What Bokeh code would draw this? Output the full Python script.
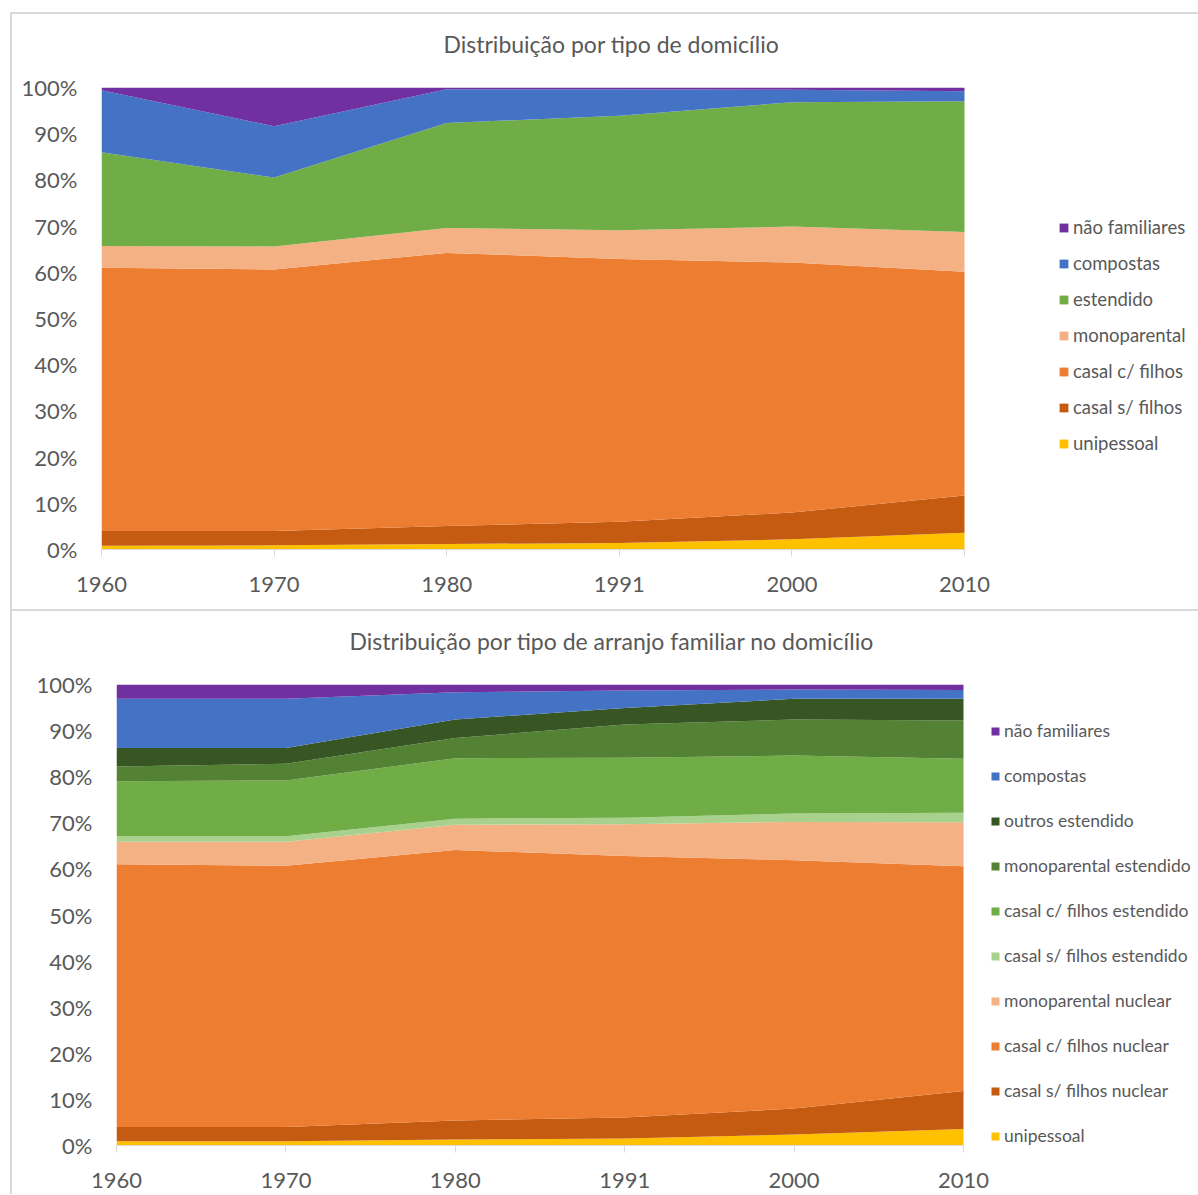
from bokeh.plotting import figure
from bokeh.models import (Range1d, FixedTicker, Legend, LegendItem, Title,
                          ColumnDataSource, NumeralTickFormatter)
from bokeh.embed import file_html
from bokeh.resources import INLINE

years = ["1960", "1970", "1980", "1991", "2000", "2010"]

# --- Distribuição por tipo de domicílio (% dos domicílios) ---
dom_unipessoal = [0.8, 0.9, 1.2, 1.4, 2.2, 3.6]
dom_casal_sem_filhos = [3.2, 3.1, 3.9, 4.6, 5.8, 8.1]
dom_casal_com_filhos = [57.0, 56.6, 59.1, 56.9, 54.1, 48.4]
dom_monoparental = [4.7, 5.0, 5.4, 6.2, 7.8, 8.6]
dom_estendido = [20.3, 14.9, 22.7, 24.8, 26.9, 28.3]
dom_compostas = [13.4, 11.1, 7.3, 5.7, 2.7, 2.2]
dom_nao_familiares = [0.6, 8.4, 0.4, 0.4, 0.5, 0.8]

dom_labels = ["unipessoal", "casal s/ filhos", "casal c/ filhos", "monoparental",
              "estendido", "compostas", "não familiares"]
dom_values = [dom_unipessoal, dom_casal_sem_filhos, dom_casal_com_filhos,
              dom_monoparental, dom_estendido, dom_compostas, dom_nao_familiares]
dom_colors = ["#FFC000", "#C55A11", "#ED7D31", "#F4B183", "#70AD47", "#4472C4", "#7030A0"]

# --- Distribuição por tipo de arranjo familiar no domicílio ---
arr_unipessoal = [0.9, 0.9, 1.3, 1.5, 2.4, 3.6]
arr_casal_sem_filhos_nuclear = [3.1, 3.1, 4.1, 4.6, 5.6, 8.2]
arr_casal_com_filhos_nuclear = [57.0, 56.7, 58.7, 56.7, 53.9, 48.8]
arr_monoparental_nuclear = [4.9, 5.2, 5.5, 6.9, 8.3, 9.5]
arr_casal_sem_filhos_estendido = [1.2, 1.2, 1.3, 1.4, 1.8, 2.1]
arr_casal_com_filhos_estendido = [11.9, 12.1, 13.1, 13.0, 12.6, 11.7]
arr_monoparental_estendido = [3.2, 3.6, 4.4, 7.2, 7.8, 8.3]
arr_outros_estendido = [4.0, 3.4, 4.0, 3.6, 4.5, 4.7]
arr_compostas = [10.7, 10.7, 5.9, 3.8, 2.0, 1.9]
arr_nao_familiares = [3.1, 3.1, 1.7, 1.3, 1.1, 1.2]

arr_labels = ["unipessoal", "casal s/ filhos nuclear", "casal c/ filhos nuclear",
              "monoparental nuclear", "casal s/ filhos estendido",
              "casal c/ filhos estendido", "monoparental estendido",
              "outros estendido", "compostas", "não familiares"]
arr_values = [arr_unipessoal, arr_casal_sem_filhos_nuclear, arr_casal_com_filhos_nuclear,
              arr_monoparental_nuclear, arr_casal_sem_filhos_estendido,
              arr_casal_com_filhos_estendido, arr_monoparental_estendido,
              arr_outros_estendido, arr_compostas, arr_nao_familiares]
arr_colors = ["#FFC000", "#C55A11", "#ED7D31", "#F4B183", "#A9D18E",
              "#70AD47", "#548235", "#375623", "#4472C4", "#7030A0"]

FONT = "Lato"
TEXT = "#595959"
BORDER = "#D9D9D9"
CANVAS_W = 1186


def stacked_chart(title, labels, values, colors, *, left, top, bottom, frame_h,
                  data_w, title_offset, legend_loc, legend_spacing, legend_font, glyph):
    n = len(years)
    totals = [sum(v[i] for v in values) for i in range(n)]
    data = {"x": list(range(n))}
    keys = []
    for k, v in enumerate(values):
        key = f"s{k}"
        keys.append(key)
        data[key] = [v[i] / totals[i] for i in range(n)]
    src = ColumnDataSource(data)

    # the plot area runs to the right edge so that the legend sits inside it;
    # the categories occupy the first data_w pixels
    frame_w = CANVAS_W - left
    x_end = (n - 1) * frame_w / data_w

    p = figure(frame_width=frame_w, frame_height=frame_h, output_backend="svg",
               toolbar_location=None, title=None,
               x_range=Range1d(0, x_end), y_range=Range1d(0, 1),
               min_border_left=left, min_border_right=0,
               min_border_top=top, min_border_bottom=bottom)
    p.outline_line_color = None
    p.grid.visible = False
    p.background_fill_color = "white"
    p.border_fill_color = "white"

    rends = p.varea_stack(stackers=keys, x="x", color=colors, source=src)

    xa = p.xaxis[0]
    xa.bounds = (0, n - 1)
    xa.ticker = FixedTicker(ticks=list(range(n)))
    xa.major_label_overrides = {i: y for i, y in enumerate(years)}
    xa.axis_line_color = BORDER
    xa.axis_line_width = 1
    xa.major_tick_line_color = BORDER
    xa.major_tick_in = 0
    xa.major_tick_out = 7
    xa.minor_tick_line_color = None
    xa.major_label_standoff = 20
    xa.major_label_text_font = FONT
    xa.major_label_text_font_size = "22px"
    xa.major_label_text_color = TEXT

    ya = p.yaxis[0]
    ya.ticker = FixedTicker(ticks=[i / 10 for i in range(11)])
    ya.formatter = NumeralTickFormatter(format="0%")
    ya.axis_line_color = None
    ya.major_tick_line_color = None
    ya.minor_tick_line_color = None
    ya.major_tick_out = 0
    ya.major_tick_in = 0
    ya.major_label_standoff = 24
    ya.major_label_text_font = FONT
    ya.major_label_text_font_size = "22px"
    ya.major_label_text_color = TEXT

    # blank strip between the plot area and the chart title
    p.add_layout(Title(text=" ", text_font=FONT, text_font_size="23px", standoff=0), "above")
    p.add_layout(Title(text=title, text_font=FONT, text_font_size="23px",
                       text_font_style="normal", text_color=TEXT, align="left",
                       offset=title_offset, standoff=0), "above")

    items = [LegendItem(label=labels[k], renderers=[rends[k]])
             for k in reversed(range(len(labels)))]
    legend = Legend(items=items, location=legend_loc, orientation="vertical",
                    padding=0, margin=0, spacing=legend_spacing,
                    glyph_width=glyph, glyph_height=glyph, label_standoff=4,
                    label_height=20, label_text_font=FONT,
                    label_text_font_size=legend_font, label_text_color=TEXT,
                    border_line_color=None, background_fill_alpha=0,
                    click_policy="none")
    p.add_layout(legend, "center")
    return p


p1 = stacked_chart("Distribuição por tipo de domicílio", dom_labels, dom_values, dom_colors,
                   left=89, top=73, bottom=60, frame_h=462, data_w=863,
                   title_offset=342, legend_loc=(957, 95), legend_spacing=14,
                   legend_font="18.5px", glyph=11)
p2 = stacked_chart("Distribuição por tipo de arranjo familiar no domicílio",
                   arr_labels, arr_values, arr_colors,
                   left=104, top=73, bottom=49, frame_h=461, data_w=847,
                   title_offset=233, legend_loc=(874, -1), legend_spacing=24,
                   legend_font="17.5px", glyph=10)

line = BORDER
p1.margin = (14, 0, 0, 12)
p1.styles = {"box-shadow": f"-2px 0 0 0 {line}, 0 -2px 0 0 {line}, -2px -2px 0 0 {line}, "
                           f"0 2px 0 0 {line}, -2px 2px 0 0 {line}"}
p2.margin = (2, 0, 0, 12)
p2.styles = {"box-shadow": f"-2px 0 0 0 {line}, -2px -2px 0 0 {line}"}

html = file_html([p1, p2], INLINE, title="Distribuição por tipo de domicílio")
html = html.replace("<body>", '<body style="margin:0;background:white;overflow:hidden;">')
open("out.html", "w").write(html)
